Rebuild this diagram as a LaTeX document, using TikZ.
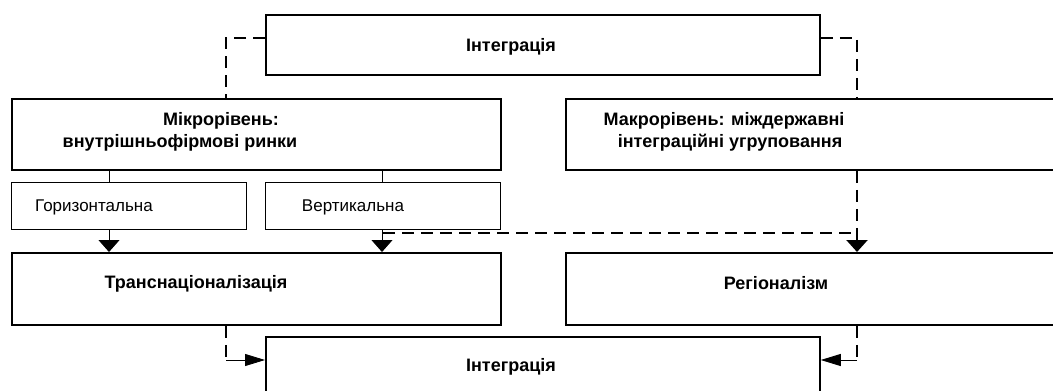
\documentclass[tikz,border=0pt]{standalone}
\usepackage{fontspec}
\setmainfont{Liberation Sans}
\usetikzlibrary{arrows.meta}
\begin{document}
\begin{tikzpicture}[x=1pt,y=-1pt,
  bigbox/.style={draw, line width=1.8pt, anchor=north west, inner sep=0pt},
  smallbox/.style={draw, line width=0.9pt, anchor=north west, inner sep=0pt},
  btxt/.style={anchor=base, inner sep=0pt, font=\bfseries\fontsize{18}{18}\selectfont},
  rtxt/.style={anchor=base, inner sep=0pt, font=\fontsize{17}{17}\selectfont},
  dashline/.style={line width=2.2pt, dash pattern=on 12pt off 7pt},
  thinline/.style={line width=0.9pt},
  downarrow/.style={thinline, -{Triangle[length=12pt,width=21pt]}},
  sidearrow/.style={thinline, -{Triangle[length=20pt,width=12pt]}}]
\useasboundingbox (0,0) rectangle (1053,391);
\clip (0,0) rectangle (1053,391);
\fill[white] (0,0) rectangle (1053,391);
% boxes
\node[bigbox, minimum width=554pt, minimum height=60pt] (top) at (265,14) {};
\node[bigbox, minimum width=489pt, minimum height=71pt] (micro) at (11,98) {};
\node[bigbox, minimum width=500pt, minimum height=71pt] (macro) at (565,98) {};
\node[smallbox, minimum width=235pt, minimum height=47pt] (horiz) at (11,182) {};
\node[smallbox, minimum width=235pt, minimum height=47pt] (vert) at (265,182) {};
\node[bigbox, minimum width=489pt, minimum height=72pt] (trans) at (11,252) {};
\node[bigbox, minimum width=500pt, minimum height=72pt] (reg) at (565,252) {};
\node[bigbox, minimum width=554pt, minimum height=80pt] (bot) at (265,336) {};
% texts
\node[btxt] (ttop) at (511,51) {Інтеграція};
\node[btxt] (tmic1) at (221,125) {Мікрорівень:};
\node[btxt] (tmic2) at (180,147) {внутрішньофірмові ринки};
\node[btxt] (tmac1) at (724,125) {Макрорівень: міждержавні};
\node[btxt] (tmac2) at (730,147) {інтеграційні угруповання};
\node[rtxt] (thor) at (94,211) {Горизонтальна};
\node[rtxt] (tver) at (353,211) {Вертикальна};
\node[btxt] (ttra) at (196,288) {Транснаціоналізація};
\node[btxt] (treg) at (776,289) {Регіоналізм};
\node[btxt] (tbot) at (511,371) {Інтеграція};
% helper coordinates
\coordinate (c1) at (226,38);
\coordinate (c2) at (857,38);
\coordinate (c3) at (383,233);
\coordinate (hx) at (109,0);
\coordinate (vx) at (382,0);
\coordinate (c5) at (226,360);
\coordinate (c6) at (857,360);
% connectors
\draw[dashline] (top.west |- c1) -- (c1) -- (micro.north -| c1);
\draw[dashline] (top.east |- c2) -- (c2) -- (macro.north -| c2);
\draw[dashline, -{Triangle[length=12pt,width=21pt]}] (macro.south -| c2) -- (reg.north -| c2);
\draw[dashline] (c3) -- (c3 -| c2);
\draw[thinline] (micro.south -| hx) -- (horiz.north -| hx);
\draw[thinline] (micro.south -| vx) -- (vert.north -| vx);
\draw[downarrow] (horiz.south -| hx) -- (trans.north -| hx);
\draw[downarrow] (vert.south -| vx) -- (trans.north -| vx);
\draw[dashline] (trans.south -| c5) -- (c5);
\draw[sidearrow] (c5) -- (bot.west |- c5);
\draw[dashline] (reg.south -| c6) -- (c6);
\draw[sidearrow] (c6) -- (bot.east |- c6);
\end{tikzpicture}
\end{document}
